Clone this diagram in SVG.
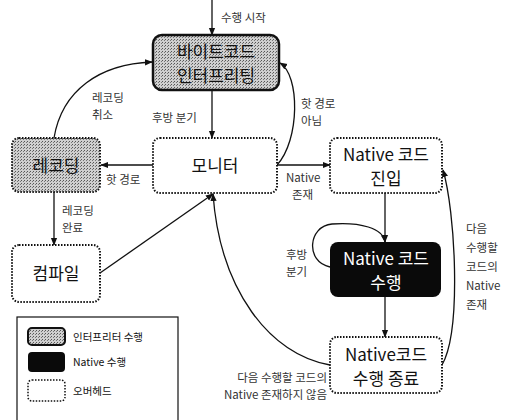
<svg xmlns="http://www.w3.org/2000/svg" width="514" height="420" viewBox="0 0 514 420">
<defs>
<pattern id="gp" width="3" height="3" patternUnits="userSpaceOnUse">
<rect width="3" height="3" fill="#cfcfcf"/>
<rect x="0" y="0" width="1" height="1" fill="#555"/>
<rect x="2" y="1" width="1" height="1" fill="#777"/>
</pattern>
<marker id="ah" viewBox="0 0 10 10" refX="9" refY="5" markerWidth="6" markerHeight="6" orient="auto-start-reverse">
<path d="M0,1 L10,5 L0,9 z" fill="#111"/>
</marker>
</defs>
<style>
.t{font-family:"Noto Sans CJK KR","Liberation Sans",sans-serif;fill:#111}
.n{font-size:17px;text-anchor:middle}
.l{font-size:11.5px;fill:#333}
.ov{fill:#fff;stroke:#111;stroke-width:2;stroke-dasharray:1.5 1.5}
.c{fill:none;stroke:#111;stroke-width:1.3;marker-end:url(#ah)}
</style>
<rect width="514" height="420" fill="#fff"/>

<g id="connectors">
<line class="c" x1="212" y1="0" x2="212" y2="35"/>
<line class="c" x1="212" y1="90" x2="212" y2="138"/>
<path class="c" d="M54,138 C62,90 100,64 152,62"/>
<line class="c" x1="153" y1="165" x2="101" y2="165"/>
<line class="c" x1="54" y1="192" x2="54" y2="245"/>
<line class="c" x1="100" y1="273" x2="213" y2="194"/>
<path class="c" d="M330,365 C270,355 220,290 213,194"/>
<line class="c" x1="277" y1="165" x2="330" y2="165"/>
<path class="c" d="M277,165 C300,140 300,75 280,63"/>
<line class="c" x1="385" y1="193" x2="385" y2="242"/>
<path class="c" d="M330,267 C305,262 308,226 332,224 C360,222 383,228 385,242"/>
<line class="c" x1="385" y1="297" x2="385" y2="337"/>
<path class="c" d="M442,365 C462,330 455,210 443,170"/>
</g>

<g id="interp">
<rect x="153" y="35" width="126" height="55" rx="9" fill="url(#gp)" stroke="#111" stroke-width="2.5"/>
<text class="t n" x="216" y="58">바이트코드</text>
<text class="t n" x="216" y="82">인터프리팅</text>
</g>
<text class="t l" x="221" y="22">수행 시작</text>
<text class="t l" x="152" y="122">후방 분기</text>
<text class="t l" x="92" y="102">레코딩</text>
<text class="t l" x="92" y="119">취소</text>
<text class="t l" x="301" y="108">핫 경로</text>
<text class="t l" x="301" y="125">아님</text>

<g id="recording">
<rect class="ov" x="12" y="138" width="88" height="54" rx="7" style="fill:url(#gp)"/>
<text class="t n" x="56" y="172">레코딩</text>
</g>
<text class="t l" x="106" y="184">핫 경로</text>

<g id="monitor">
<rect class="ov" x="153" y="138" width="124" height="55" rx="7"/>
<text class="t n" x="215" y="172">모니터</text>
</g>
<text class="t l" x="286" y="182">Native</text>
<text class="t l" x="292" y="199">존재</text>

<g id="native-entry">
<rect class="ov" x="330" y="138" width="112" height="55" rx="7"/>
<text class="t n" x="386" y="161">Native 코드</text>
<text class="t n" x="386" y="185">진입</text>
</g>

<text class="t l" x="62" y="215">레코딩</text>
<text class="t l" x="62" y="232">완료</text>

<g id="compile">
<rect class="ov" x="12" y="245" width="88" height="57" rx="7"/>
<text class="t n" x="56" y="280">컴파일</text>
</g>

<g id="native-exec">
<rect x="330" y="242" width="111" height="55" rx="8" fill="#0a0a0a"/>
<text class="t n" x="386" y="265" style="fill:#fff">Native 코드</text>
<text class="t n" x="386" y="289" style="fill:#fff">수행</text>
</g>
<text class="t l" x="286" y="259">후방</text>
<text class="t l" x="286" y="276">분기</text>

<g id="native-end">
<rect class="ov" x="330" y="337" width="112" height="56" rx="7"/>
<text class="t n" x="386" y="361">Native코드</text>
<text class="t n" x="386" y="385">수행 종료</text>
</g>
<text class="t l" x="327" y="382" text-anchor="end">다음 수행할 코드의</text>
<text class="t l" x="327" y="399" text-anchor="end">Native 존재하지 않음</text>

<text class="t l" x="466" y="233">다음</text>
<text class="t l" x="466" y="252">수행할</text>
<text class="t l" x="466" y="271">코드의</text>
<text class="t l" x="466" y="290">Native</text>
<text class="t l" x="466" y="309">존재</text>

<g id="legend">
<rect x="17" y="317" width="161" height="110" fill="#fff" stroke="#111" stroke-width="1.2"/>
<rect x="28" y="328" width="37" height="17" rx="4" fill="url(#gp)" stroke="#111" stroke-width="2"/>
<text class="t" x="73" y="341" font-size="10.5">인터프리터 수행</text>
<rect x="28" y="352" width="37" height="20" rx="4" fill="#0a0a0a"/>
<text class="t" x="73" y="366" font-size="10.5">Native 수행</text>
<rect class="ov" x="28" y="380" width="37" height="21" rx="4" style="stroke-width:1.5"/>
<text class="t" x="73" y="395" font-size="10.5">오버헤드</text>
</g>
</svg>
